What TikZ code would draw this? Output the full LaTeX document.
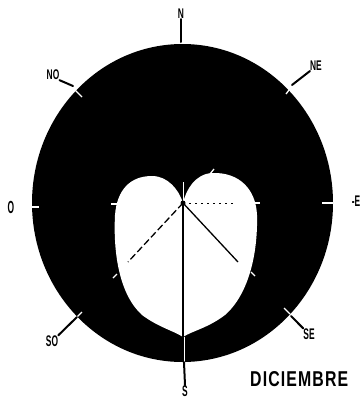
\documentclass[tikz,border=0pt]{standalone}
\usepackage{fontspec}
\setmainfont{Liberation Sans}
\usepackage{graphicx}
\begin{document}
\begin{tikzpicture}[x=1pt,y=-1pt,
  lbl/.style={inner sep=0pt,font=\fontsize{14}{14}\selectfont\bfseries},
  lead/.style={line width=2pt,line cap=round},
  wtick/.style={white,line width=1.3pt},
  inner/.style={line width=1.3pt}]
\useasboundingbox (0,0) rectangle (362,399);
% outer disc
\fill[black] (182.5,203) ellipse [x radius=150.5, y radius=159];
% inner heart-shaped white area
\fill[white] (183,203) .. controls (186,190) and (195,174) .. (212,173)
  .. controls (240,172) and (256,190) .. (257,215)
  .. controls (258,255) and (248,295) .. (225,315)
  .. controls (208,328) and (192,331) .. (183,337)
  .. controls (174,331) and (158,327) .. (142,315)
  .. controls (120,295) and (113,255) .. (115,215)
  .. controls (117,190) and (130,176) .. (152,176)
  .. controls (168,176) and (179,190) .. (183,203) -- cycle;
% white notch line
\draw[white,line width=0.8pt] (183,182) -- (183,203);
% white ticks on heart edge
\draw[wtick] (111,204) -- (117,204);
\draw[wtick] (253,203) -- (260,203);
\draw[wtick] (210,174) -- (214,169);
\draw[wtick] (117,274) -- (113,278);
\draw[wtick] (251,272) -- (255,276);
% white ticks on disc edge
\draw[wtick] (32,207) -- (39,207);
\draw[wtick] (322,203) -- (333,203);
\draw[wtick] (74,89) -- (82,97);
\draw[wtick] (292,86) -- (286,94);
\draw[wtick] (77,317) -- (82,312);
\draw[wtick] (284,308) -- (290,314);
\draw[white,line width=0.9pt] (184,337) -- (184,362);
% named anchor points
\coordinate (c) at (183,203);
\coordinate (sw) at (128,262);
\coordinate (se) at (238,262);
\coordinate (e) at (235,203);
\coordinate (bot) at (183,337);
% inner lines
\fill (c) circle (2.5);
\draw[inner] (c) -- (bot);
\draw[inner] (c) -- (se);
\draw[inner,dashed,dash pattern=on 7pt off 3pt] (c) -- (sw);
\draw[line width=1pt,dash pattern=on 2pt off 4pt] (c) -- (e);
% labels
\node[lbl] (N) at (181,14) {\scalebox{0.6}[1]{N}};
\node[lbl] (NO) at (53,75) {\scalebox{0.6}[1]{NO}};
\node[lbl] (NE) at (316,66) {\scalebox{0.6}[1]{NE}};
\node[lbl] (O) at (11,207) {\scalebox{0.6}[1.25]{O}};
\node[lbl] (E) at (356,201) {\scalebox{0.6}[1.1]{-E}};
\node[lbl] (SO) at (52,341) {\scalebox{0.6}[1.1]{SO}};
\node[lbl] (SE) at (309,334) {\scalebox{0.6}[1.1]{SE}};
\node[lbl] (S) at (185,391) {\scalebox{0.6}[1.1]{S}};
\node[lbl,anchor=west] (dic) at (250,379.5) {\resizebox{98pt}{15pt}{\textbf{D\kern1pt I\kern1pt C\kern1pt I\kern1pt E\kern1pt M\kern1pt B\kern1pt R\kern1pt E}}};
% leaders
\draw[lead] (N.south) -- (181,42);
\draw[lead] (NO.south east) -- (73,86);
\draw[lead] (NE.south west) -- (292,85);
\draw[lead] (SO.north east) -- (77,317);
\draw[lead] (SE.north west) -- (291,316);
\draw[lead] (184,362) -- (S.north);
\end{tikzpicture}
\end{document}
